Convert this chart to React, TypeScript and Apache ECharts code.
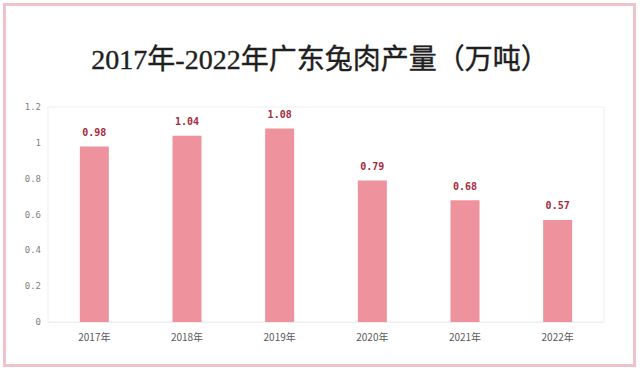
import React, { useEffect, useRef } from "react";
import * as echarts from "echarts";

const titleText = "2017年-2022年广东兔肉产量（万吨）";
const categories = ["2017年", "2018年", "2019年", "2020年", "2021年", "2022年"];
const values = [0.98, 1.04, 1.08, 0.79, 0.68, 0.57];
const yTicks = { min: 0, max: 1.2, interval: 0.2 };

export default function App() {
  const ref = useRef<HTMLDivElement>(null);
  useEffect(() => {
    if (!ref.current) return;
    const chart = echarts.init(ref.current, undefined, { renderer: "svg" });
    chart.setOption({
      animation: false,
      backgroundColor: "#ffffff",
      title: {
        text: titleText,
        left: "center",
        top: 40,
        textStyle: {
          fontFamily: "'Liberation Serif', 'DejaVu Serif', 'Noto Sans CJK SC', serif",
          fontSize: 28,
          fontWeight: "normal",
          color: "#1f1f1f",
          textBorderColor: "#1f1f1f",
          textBorderWidth: 0.4,
        },
      },
      graphic: [
        {
          type: "rect",
          shape: { x: 4.5, y: 4.5, width: 630, height: 361 },
          style: { fill: "none", stroke: "#f0c2ca", lineWidth: 3 },
          silent: true,
        },
      ],
      grid: {
        left: 48,
        right: 36,
        top: 107,
        bottom: 48,
        show: true,
        borderColor: "#efefef",
        borderWidth: 1,
      },
      xAxis: {
        type: "category",
        data: categories,
        axisLine: { show: true, lineStyle: { color: "#eeeeee" } },
        axisTick: { show: false },
        axisLabel: {
          color: "#595959",
          fontSize: 10,
          margin: 9,
          fontFamily: "'Noto Sans CJK SC', sans-serif",
        },
      },
      yAxis: {
        type: "value",
        min: yTicks.min,
        max: yTicks.max,
        interval: yTicks.interval,
        axisLine: { show: false },
        axisTick: { show: false },
        splitLine: { show: false },
        axisLabel: {
          color: "#7f7f7f",
          fontSize: 9,
          margin: 7,
          fontFamily: "'DejaVu Sans Mono', monospace",
          formatter: (v: number) => String(Math.round(v * 10) / 10),
        },
      },
      series: [
        {
          type: "bar",
          data: values,
          barWidth: 29,
          itemStyle: { color: "#ee929d" },
          label: {
            show: true,
            position: "top",
            distance: 9,
            color: "#a52b3c",
            fontSize: 10,
            fontWeight: "bold",
            fontFamily: "'DejaVu Sans Mono', monospace",
            formatter: (p: any) => p.value.toFixed(2),
          },
        },
      ],
    });
    return () => chart.dispose();
  }, []);
  return (
    <div
      ref={ref}
      style={{ position: "absolute", left: 0, top: 0, width: 640, height: 370 }}
    />
  );
}
